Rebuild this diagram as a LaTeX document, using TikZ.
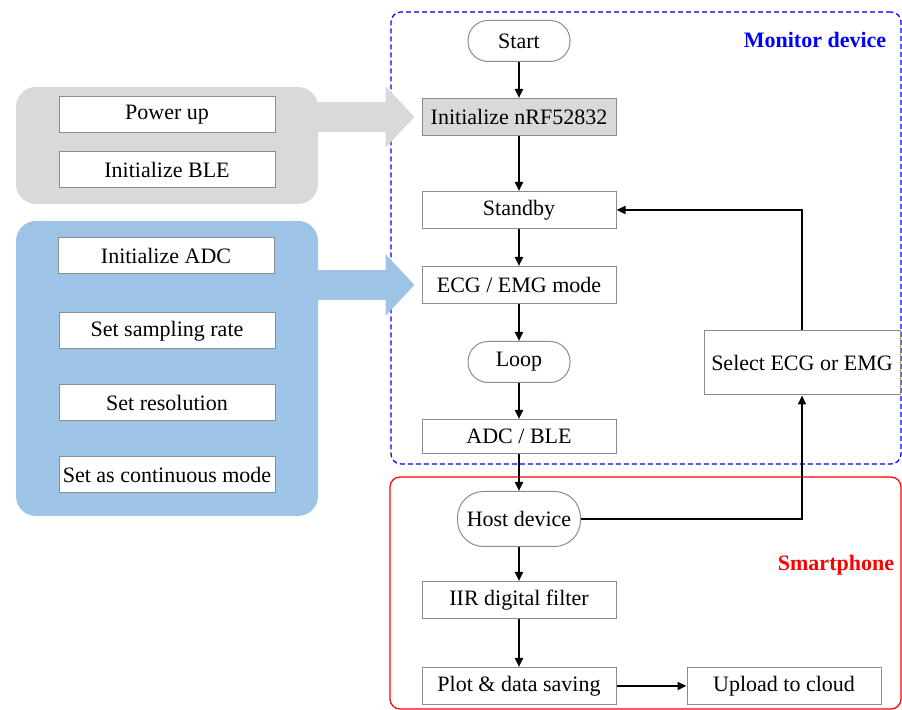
\documentclass[tikz,border=0pt]{standalone}
\usepackage{fontspec}
\setmainfont{Liberation Serif}
\usetikzlibrary{positioning, arrows.meta}
\definecolor{panelGray}{HTML}{D9D9D9}
\definecolor{panelBlue}{HTML}{9DC3E6}
\definecolor{edgeGray}{HTML}{8C8C8C}
\definecolor{monBlue}{HTML}{0000FF}
\definecolor{phoneRed}{HTML}{FF0000}
\tikzset{
  every node/.style={font=\fontsize{11}{13}\selectfont},
  titletext/.style={font=\fontsize{11}{13}\selectfont\bfseries}
}

\begin{document}
\begin{tikzpicture}[x=0.5pt, y=-0.5pt,
  stepbox/.style={draw=edgeGray, line width=0.5pt, fill=white, minimum width=97pt, minimum height=18.5pt, inner sep=0pt},
  termbox/.style={draw=edgeGray, line width=0.5pt, fill=white, rounded corners=10pt, minimum width=51pt, minimum height=20.5pt, inner sep=0pt},
  initbox/.style={draw=edgeGray, line width=0.5pt, fill=white, minimum width=108pt, minimum height=18pt, inner sep=0pt},
  panel/.style={rounded corners=10pt, inner sep=0pt, minimum width=151pt},
  group/.style={rounded corners=5pt, line width=0.6pt, inner sep=0pt},
  flow/.style={-{Triangle[length=4.5pt, width=4pt]}, line width=1.1pt},
  fat/.style={line width=15pt, -{Triangle[length=14.5pt, width=30pt]}}
]
\useasboundingbox (0,0) rectangle (902,710);

% device / phone frames
\node[group, draw=monBlue, dash pattern=on 2.5pt off 1.5pt, minimum width=255pt, minimum height=226pt] (mon) at (646,238) {};
\node[group, draw=phoneRed, minimum width=255.5pt, minimum height=116pt] (phone) at (645.5,593) {};
\node[titletext, text=monBlue] (monlabel) at (815,40) {Monitor device};
\node[titletext, text=phoneRed] (phonelabel) at (836,565) {Smartphone};

% setup panels
\node[panel, fill=panelGray, minimum height=58.5pt] (hwpanel) at (167,145.5) {};
\node[panel, fill=panelBlue, minimum height=147.5pt] (adcpanel) at (167,368.5) {};

\node[initbox] (pwr) at (167,115) {Power up};
\node[initbox] (ble) at (167,170) {Initialize BLE};
\node[initbox] (adcinit) at (166,256) {Initialize ADC};
\node[initbox] (rate) at (167,331) {Set sampling rate};
\node[initbox] (res) at (167,403) {Set resolution};
\node[initbox] (cont) at (167,475) {Set as continuous mode};

% main flow
\node[termbox] (start) at (519,41) {Start};
\node[stepbox, fill=panelGray, below=18pt of start] (init) {Initialize nRF52832};
\node[stepbox, below=27.5pt of init] (stby) {Standby};
\node[stepbox, below=18.5pt of stby] (mode) {ECG / EMG mode};
\node[termbox, below=18.5pt of mode] (loop) {Loop};
\node[stepbox, minimum height=17pt, below=18pt of loop] (adc) {ADC / BLE};
\node[termbox, minimum width=61.5pt, minimum height=27.5pt, rounded corners=13pt, below=18.5pt of adc] (host) {Host device};
\node[stepbox, below=17pt of host] (iir) {IIR digital filter};
\node[stepbox, below=24pt of iir] (plot) {Plot \& data saving};
\node[stepbox, right=35pt of plot] (cloud) {Upload to cloud};
\node[stepbox, minimum width=98pt, minimum height=32pt] (sel) at (802,363) {Select ECG or EMG};

% block arrows
\draw[fat, panelGray] ([xshift=-10pt]hwpanel.east |- init.west) -- ([xshift=-3.5pt]init.west);
\draw[fat, panelBlue] ([xshift=-10pt]adcpanel.east |- mode.west) -- ([xshift=-3.5pt]mode.west);

\draw[flow] (start) -- (init);
\draw[flow] (init) -- (stby);
\draw[flow] (stby) -- (mode);
\draw[flow] (mode) -- (loop);
\draw[flow] (loop) -- (adc);
\draw[flow] (adc) -- (host);
\draw[flow] (host) -- (iir);
\draw[flow] (iir) -- (plot);
\draw[flow] (plot) -- (cloud);
\draw[flow] (host.east) -| (sel.south);
\draw[flow] (sel.north) |- (stby.east);
\end{tikzpicture}
\end{document}
